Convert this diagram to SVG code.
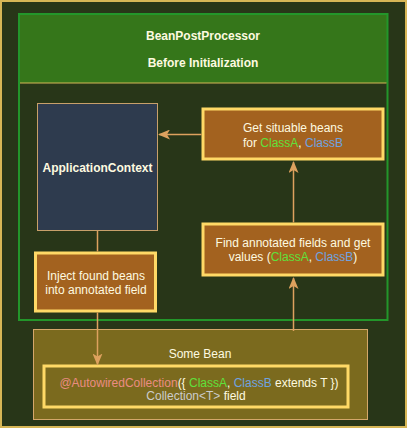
<svg xmlns="http://www.w3.org/2000/svg" width="407" height="428" viewBox="0 0 407 428">
<defs>
<style>
text{font-family:"Liberation Sans",Arial,sans-serif;font-size:12px;fill:#fefae0;text-anchor:middle}
.b{font-weight:bold}
.ga{fill:#5fe03c}
.cb{fill:#6ea3e0}
.an{fill:#ea8c82}
.gr{fill:#cccccc}
.proc{fill:#a3621f;stroke:#ffd966;stroke-width:3}
.edge{stroke:#dda15e;stroke-width:1.5;fill:none}
</style>
<marker id="arr" viewBox="0 0 12 10" refX="11" refY="5" markerWidth="12" markerHeight="10" markerUnits="userSpaceOnUse" orient="auto">
<path d="M0,0 L12,5 L0,10 L3,5 Z" fill="#dda15e"/>
</marker>
</defs>
<rect x="1" y="1" width="405" height="426" fill="#283618" stroke="#d6b656" stroke-width="2"/>
<g id="bpp">
<rect x="19" y="14" width="368.5" height="69" fill="#35761a"/>
<rect x="19" y="14" width="368.5" height="306" fill="none" stroke="#23962a" stroke-width="2"/>
<line x1="20" y1="83" x2="386.5" y2="83" stroke="#d6b656" stroke-width="1"/>
<text class="b" x="203" y="40">BeanPostProcessor</text>
<text class="b" x="203" y="67">Before Initialization</text>
</g>
<g id="someBean">
<rect x="33.5" y="329.5" width="334" height="90" fill="#7b6a1e" stroke="#d4a76a" stroke-width="1"/>
<text x="200" y="358">Some Bean</text>
</g>
<g id="field">
<rect x="44" y="366" width="304" height="41" fill="#7b6a1e" stroke="#ffd966" stroke-width="3"/>
<text x="199" y="386.5"><tspan class="an">@AutowiredCollection</tspan>({ <tspan class="ga">ClassA</tspan>, <tspan class="cb">ClassB</tspan> extends T })</text>
<text x="196" y="400"><tspan class="gr">Collection&lt;T&gt;</tspan> field</text>
</g>
<g id="appContext">
<rect x="37.5" y="103.5" width="120" height="127" fill="#2e3b4e" stroke="#c8a06a" stroke-width="1"/>
<text class="b" x="97.5" y="172">ApplicationContext</text>
</g>
<g id="getBeans">
<rect class="proc" x="203" y="109" width="180" height="50"/>
<text x="293" y="132">Get situable beans</text>
<text x="293" y="147">for <tspan class="ga">ClassA</tspan>, <tspan class="cb">ClassB</tspan></text>
</g>
<g id="findFields">
<rect class="proc" x="203" y="224" width="180" height="51"/>
<text x="293" y="247">Find annotated fields and get</text>
<text x="293" y="261">values (<tspan class="ga">ClassA</tspan>, <tspan class="cb">ClassB</tspan>)</text>
</g>
<g id="inject">
<rect class="proc" x="35.5" y="253" width="120" height="58"/>
<text x="96" y="280">Inject found beans</text>
<text x="96" y="294">into annotated field</text>
</g>
<g id="connectors">
<line class="edge" x1="293.5" y1="331" x2="293.5" y2="278" marker-end="url(#arr)"/>
<line class="edge" x1="293.5" y1="222.5" x2="293.5" y2="162" marker-end="url(#arr)"/>
<line class="edge" x1="201.5" y1="134.5" x2="159" y2="134.5" marker-end="url(#arr)"/>
<line class="edge" x1="97.5" y1="231" x2="97.5" y2="251.5"/>
<line class="edge" x1="97.5" y1="312.5" x2="97.5" y2="364.5" marker-end="url(#arr)"/>
</g>
</svg>
